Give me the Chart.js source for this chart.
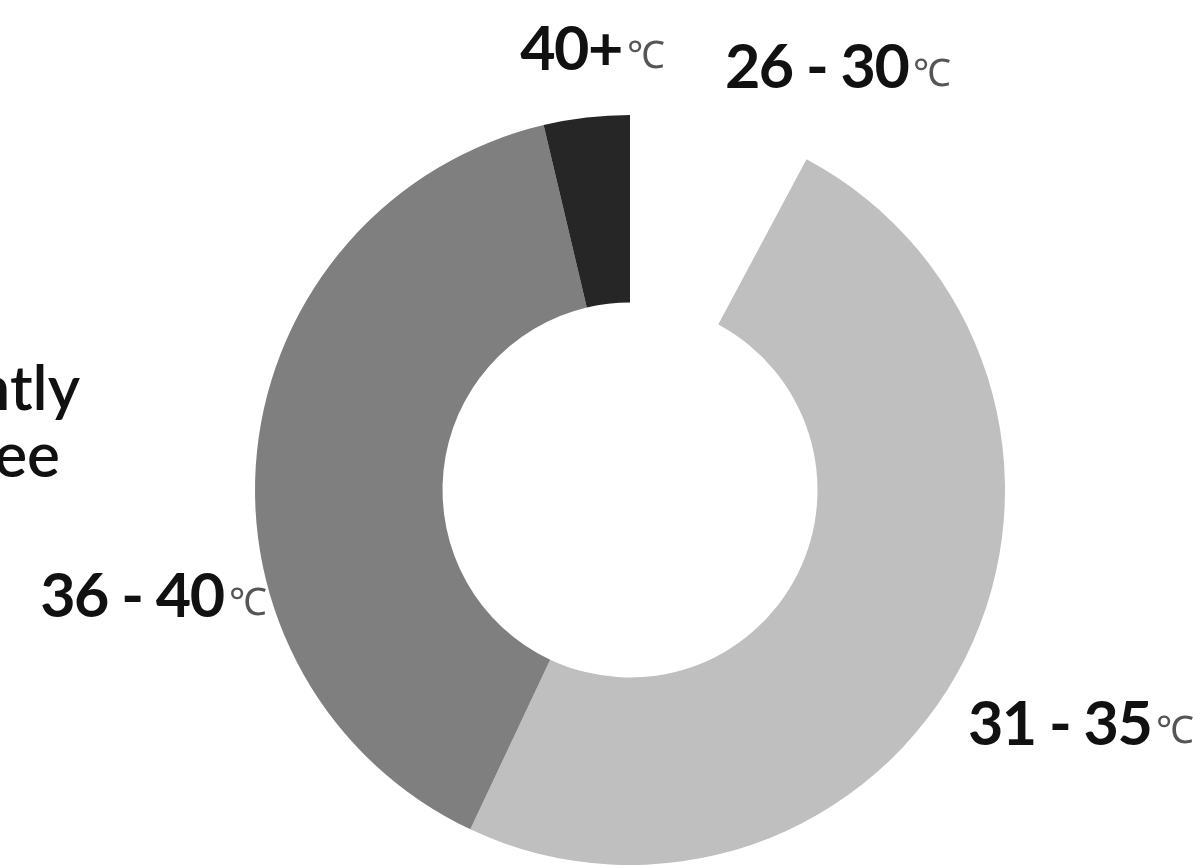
<!DOCTYPE html>
<html>
<head>
<meta charset="utf-8">
<script src="https://cdn.jsdelivr.net/npm/chart.js@4"></script>
<style>
  html, body { margin: 0; padding: 0; background: #fff; }
  #wrap { width: 1193px; height: 865px; position: relative; }
</style>
</head>
<body>
<div id="wrap"><canvas id="tempChart"></canvas></div>
<script>
const categories = ['26 - 30', '31 - 35', '36 - 40', '40+'];
const shares = [7.8, 49.2, 39.3, 3.7];
const unitLabel = '\u2103';

const colors = ['#ffffff', '#bfbfbf', '#7f7f7f', '#262626'];
// where each label sits, as (dx, dy) in units of the outer radius, left edge / baseline
const labelSpots = [[0.253, -1.072], [0.901, 0.68], [-1.573, 0.339], [-0.293, -1.12]];

const ctx = document.getElementById('tempChart').getContext('2d');

// draws the category labels with the small grey unit after them
const labelPlugin = {
  id: 'bandLabels',
  afterDraw(chart) {
    const c = chart.ctx;
    const arc = chart.getDatasetMeta(0).data[0];
    const cx = arc.x, cy = arc.y, r = arc.outerRadius;
    c.save();
    c.textBaseline = 'alphabetic';
    c.textAlign = 'left';
    categories.forEach((name, i) => {
      const x = cx + labelSpots[i][0] * r;
      const y = cy + labelSpots[i][1] * r;
      c.font = 'bold 61px Lato';
      c.letterSpacing = '-1.5px';
      c.fillStyle = '#111';
      c.fillText(name, x, y);
      const w = c.measureText(name).width;
      c.letterSpacing = '0px';
      c.font = '38px Lato';
      c.fillStyle = '#555';
      c.fillText(unitLabel, x + w + 5, y - 2);
    });
    // cut-off text at the left edge of the picture
    c.font = '600 62px Lato';
    c.fillStyle = '#111';
    c.textAlign = 'right';
    c.fillText('ntly', 80, 410);
    c.fillText('ee', 60, 477);
    c.restore();
  }
};

const tempChart = new Chart(ctx, {
  type: 'doughnut',
  data: {
    labels: categories,
    datasets: [{
      data: shares,
      backgroundColor: colors,
      borderWidth: 0,
      hoverOffset: 0
    }]
  },
  options: {
    responsive: true,
    maintainAspectRatio: false,
    animation: false,
    cutout: '50%',
    layout: { padding: { top: 115, bottom: 0, left: 255, right: 188 } },
    plugins: {
      legend: { display: false },
      tooltip: { enabled: false }
    }
  },
  plugins: [labelPlugin]
});
</script>
</body>
</html>
